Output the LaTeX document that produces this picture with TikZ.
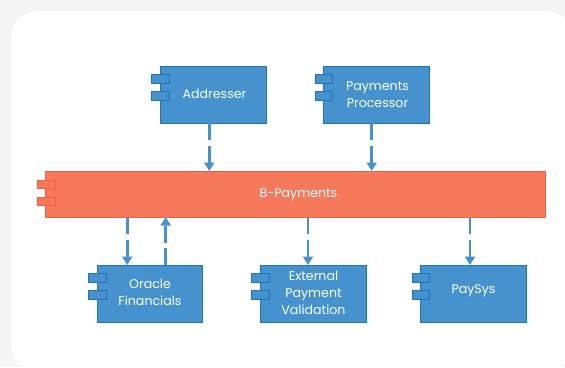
\documentclass[tikz,border=0pt]{standalone}
\usepackage{fontspec}
\setmainfont{Poppins}
\usetikzlibrary{arrows.meta}
\definecolor{blueF}{HTML}{4592CF}
\definecolor{blueD}{HTML}{1F76B4}
\definecolor{redF}{HTML}{F6795B}
\definecolor{redD}{HTML}{EF5F42}
\definecolor{paper}{HTML}{F5F5F5}
\tikzset{
  x=1pt,y=-1pt,
  box/.style={draw=#1D,fill=#1F,line width=0.9pt,minimum height=57pt,minimum width=105.5pt,inner sep=0pt,outer sep=0pt},
  tab/.style={draw=#1D,fill=#1F,line width=0.9pt,minimum height=8.5pt,minimum width=17.5pt,inner sep=0pt,outer sep=0pt},
  lbl/.style={text=white,font=\fontsize{12.6}{17}\selectfont,align=center,inner sep=0pt},
  link/.style={draw=blueF,line width=2.6pt,dash pattern=on 17pt off 5.5pt,-{Triangle[width=10pt,length=8.5pt,fill=blueF]}},
}
\begin{document}
\begin{tikzpicture}
\useasboundingbox (0,0) rectangle (565,367);
\fill[paper] (0,0) rectangle (565,367);
\begin{scope}
\clip (0,0) rectangle (565,367);
\fill[white,rounded corners=27pt] (11,11) rectangle (573,372);
\end{scope}
% components
\node[box=blue] (addr) at (213.25,94.5) {};
\node[box=blue] (proc) at (376.5,94.5) {};
\node[box=red,minimum width=500.5pt,minimum height=46pt] (bp) at (295.25,194) {};
\node[box=blue] (orac) at (150,293.5) {};
\node[box=blue] (extn) at (313.25,293.5) {};
\node[box=blue] (pays) at (473.5,293.5) {};
% tabs
\foreach \n/\c in {addr/blue,proc/blue,orac/blue,extn/blue,pays/blue}{
  \node[tab=\c] (\n-t1) at ([yshift=15.5pt]\n.west) {};
  \node[tab=\c] (\n-t2) at ([yshift=-1.5pt]\n.west) {};
}
\node[tab=red] (bp-t1) at ([xshift=1.5pt,yshift=9.5pt]bp.west) {};
\node[tab=red] (bp-t2) at ([xshift=1.5pt,yshift=-7.5pt]bp.west) {};
% labels
\node[lbl] (addr-l) at (214.5,94) {Addresser};
\node[lbl] (proc-l) at (377.5,95) {Payments\\Processor};
\node[lbl] (bp-l) at (298.5,195) {B-Payments};
\node[lbl] (orac-l) at (150,292) {Oracle\\Financials};
\node[lbl] (extn-l) at (313.5,293) {External\\Payment\\Validation};
\node[lbl] (pays-l) at (473.5,291) {PaySys};
% connectors
\draw[link] ([xshift=-4pt]addr.south) -- ([xshift=-4pt]addr.south |- bp.north);
\draw[link] ([xshift=-4.8pt]proc.south) -- ([xshift=-4.8pt]proc.south |- bp.north);
\draw[link] ([xshift=-22.7pt]orac.north |- bp.south) -- ([xshift=-22.7pt]orac.north);
\draw[link] ([xshift=15.7pt]orac.north) -- ([xshift=15.7pt]orac.north |- bp.south);
\draw[link] ([xshift=-5.25pt]extn.north |- bp.south) -- ([xshift=-5.25pt]extn.north);
\draw[link] ([xshift=-3.5pt]pays.north |- bp.south) -- ([xshift=-3.5pt]pays.north);
\end{tikzpicture}
\end{document}
